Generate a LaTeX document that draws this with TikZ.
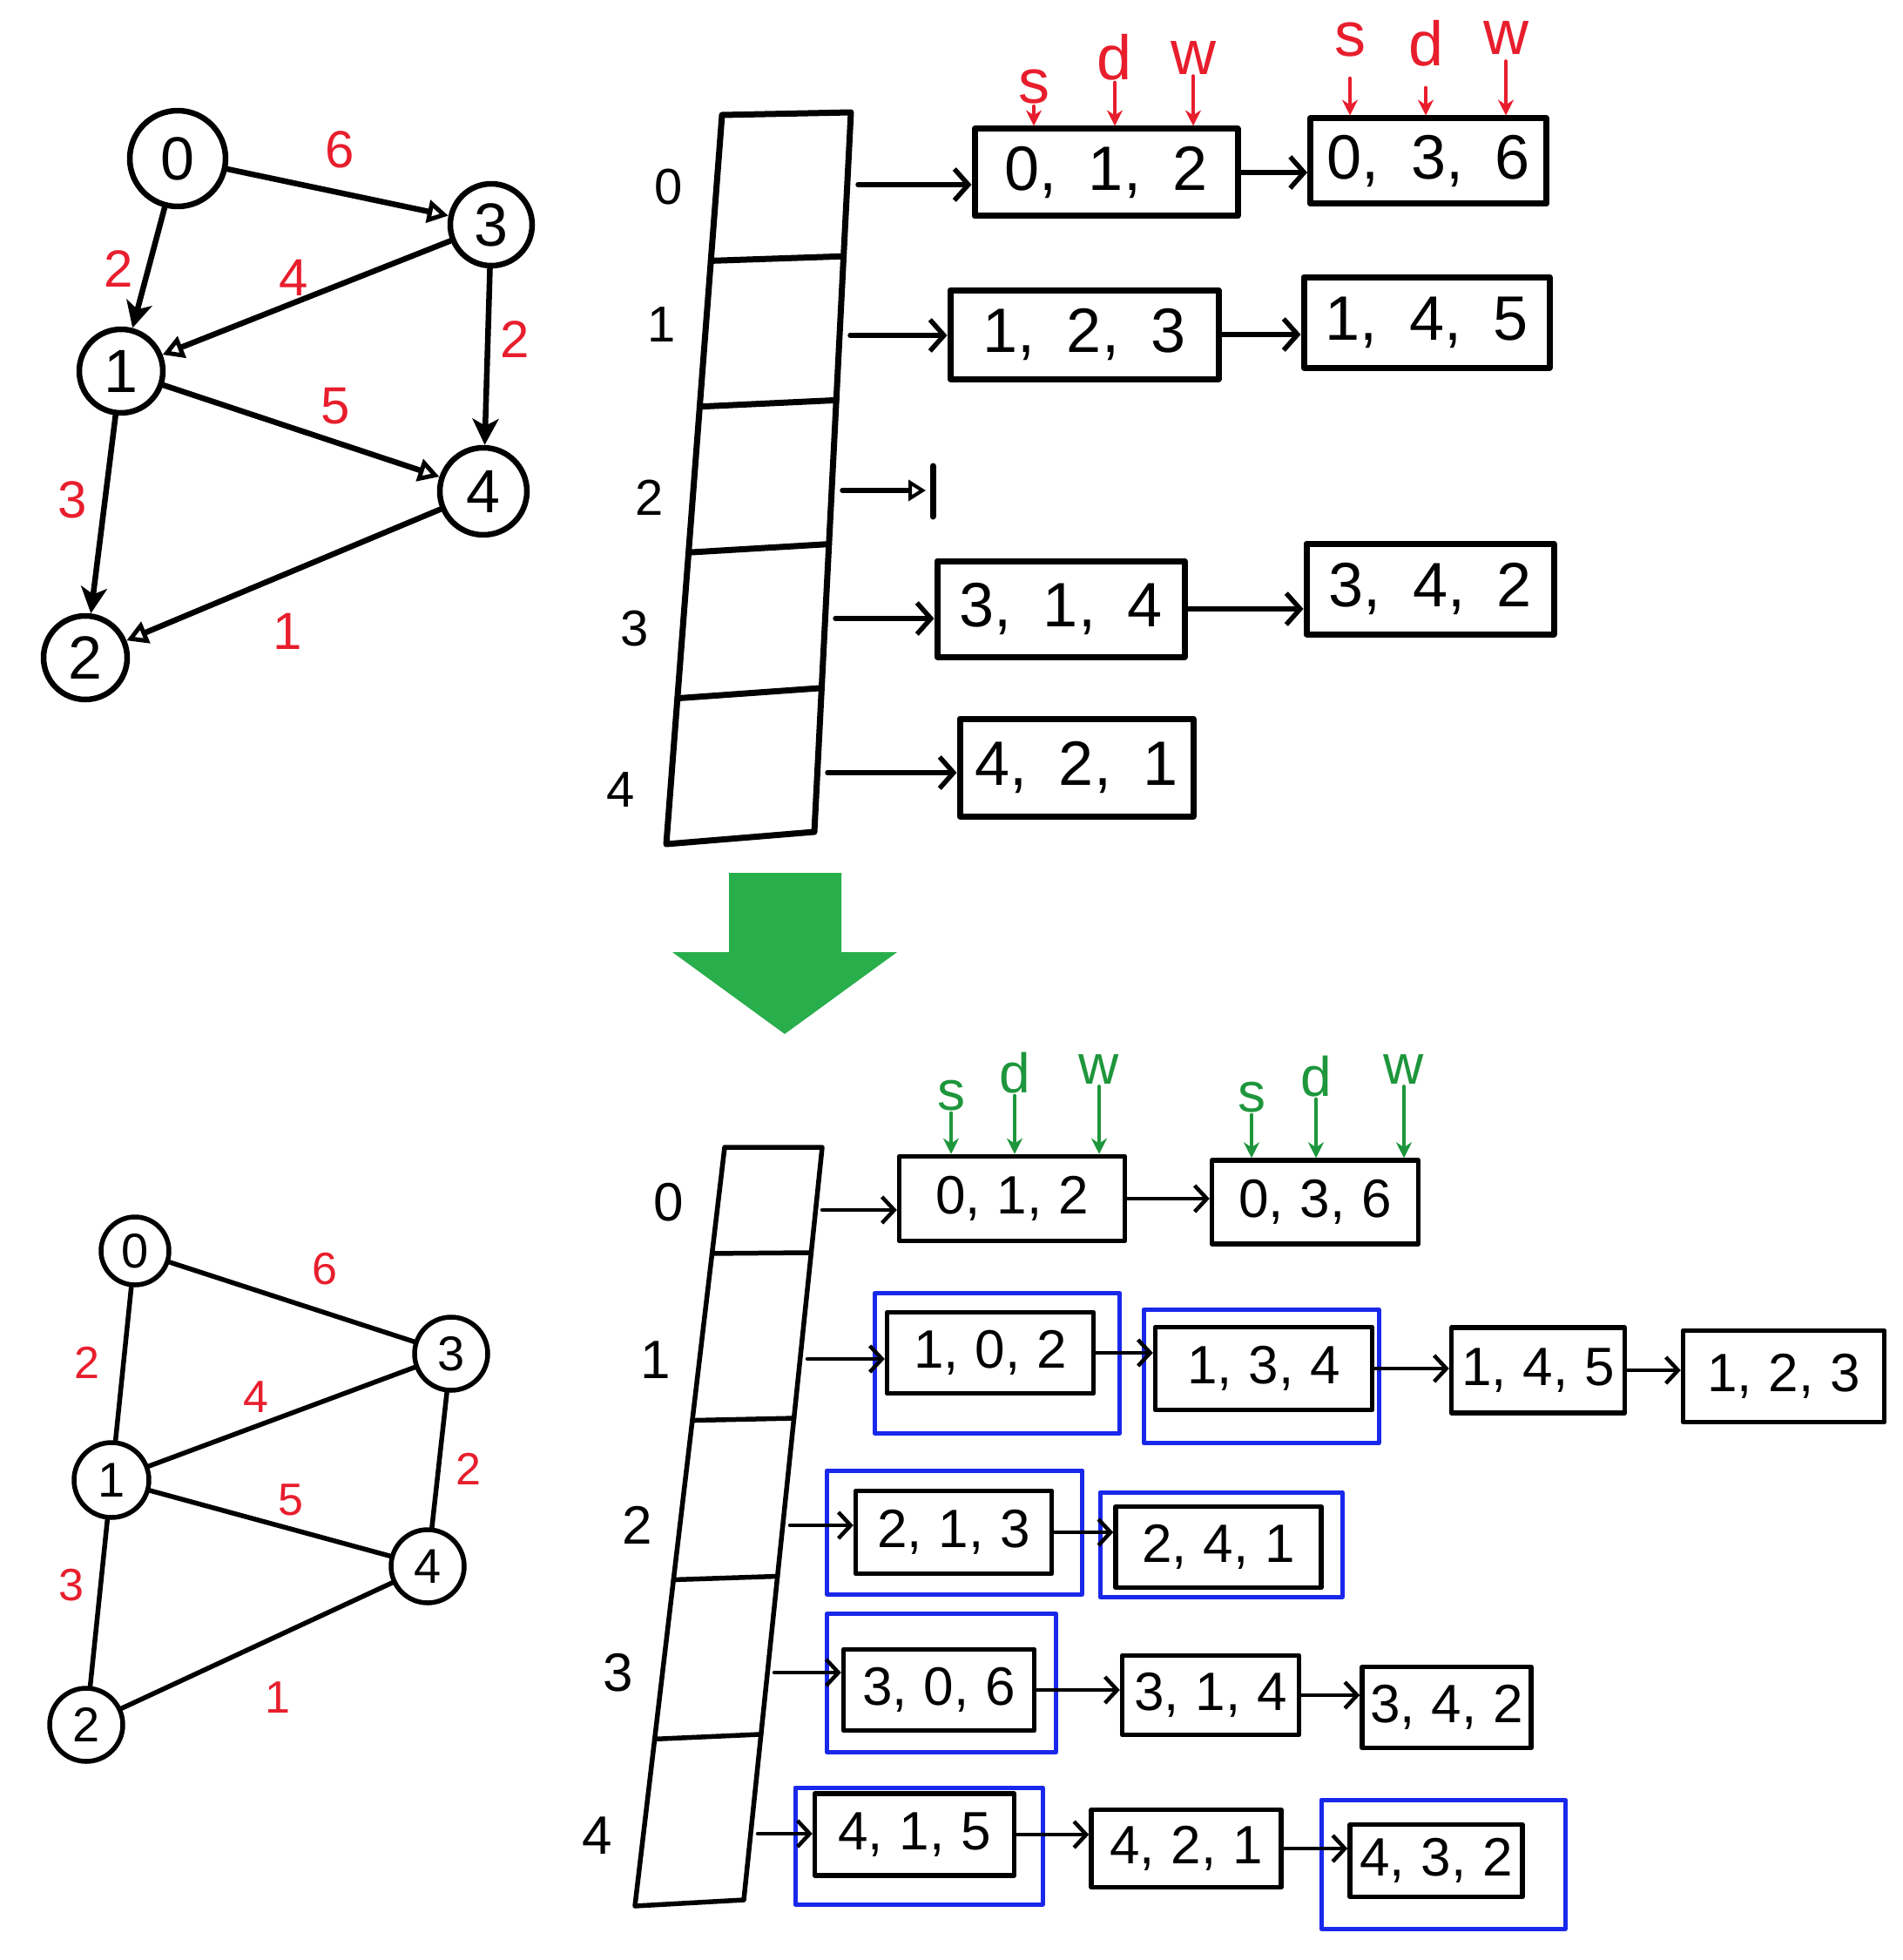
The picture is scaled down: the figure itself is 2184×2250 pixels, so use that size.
\documentclass[tikz,border=0pt]{standalone}
\usepackage{fontspec}
\setmainfont{Liberation Sans}
\usetikzlibrary{arrows.meta,calc}
\definecolor{hred}{RGB}{232,30,45}
\definecolor{hgreen}{RGB}{30,150,60}
\definecolor{biggreen}{RGB}{40,174,75}
\definecolor{hblue}{RGB}{25,40,235}
\newcommand{\fs}[1]{\fontsize{#1}{#1}\selectfont}
\newcommand{\tT}[3]{#1,\hspace{0.5em}#2,\hspace{0.5em}#3}
\newcommand{\tB}[3]{#1,\hspace{0.3em}#2,\hspace{0.3em}#3}
\begin{document}
\begin{tikzpicture}[x=1pt,y=-1pt,line cap=round,line join=round,
  vtxT/.style={circle,draw,line width=6.5pt,inner sep=0pt,font=\fs{70}},
  vtxB/.style={circle,draw,line width=5.5pt,inner sep=0pt,font=\fs{56}},
  gedge/.style={line width=6.5pt},
  opentip/.style={-{Triangle[open,length=24pt,width=26pt,line width=5pt]}},
  filltip/.style={-{Stealth[length=30pt,width=30pt,inset=8pt]}},
  elT/.style={text=hred,font=\fs{60},inner sep=0pt},
  elB/.style={text=hred,font=\fs{52},inner sep=0pt},
  uedge/.style={line width=5.5pt},
  idxT/.style={font=\fs{58},inner sep=0pt},
  idxB/.style={font=\fs{62},inner sep=0pt},
  arrT/.style={line width=7pt},
  arrB/.style={line width=5.5pt},
  boxT/.style={draw,line width=7pt,inner sep=0pt,font=\fs{72}},
  boxB/.style={draw,line width=5.5pt,inner sep=0pt,font=\fs{62}},
  sz/.style 2 args={minimum width=#1pt,minimum height=#2pt},
  linkT/.style={line width=5.5pt,-{Straight Barb[length=16pt,width=36pt]}},
  linkB/.style={line width=4.5pt,-{Straight Barb[length=14pt,width=30pt]}},
  hl/.style={draw=hblue,line width=5pt,inner sep=0pt},
  sdwT/.style={text=hred,font=\fs{72},inner sep=2pt},
  sdwB/.style={text=hgreen,font=\fs{64},inner sep=2pt},
  ptrT/.style={draw=hred,line width=4pt,-{Stealth[length=18pt,width=18pt]}},
  ptrB/.style={draw=hgreen,line width=4pt,-{Stealth[length=18pt,width=18pt]}}
]
\fill[white] (0,0) rectangle (2184,2250);
\useasboundingbox (0,0) rectangle (2184,2250);

% ================= TOP: directed graph =================
\node[vtxT,minimum size=110pt] (t0) at (204,182) {0};
\node[vtxT,minimum size=94pt] (t3) at (564,258) {3};
\node[vtxT,minimum size=96pt] (t1) at (139,426) {1};
\node[vtxT,minimum size=100pt] (t4) at (555,564) {4};
\node[vtxT,minimum size=96pt] (t2) at (98,755) {2};

\draw[gedge,opentip] (t0) -- (t3);
\draw[gedge,filltip] (t0) -- (t1);
\draw[gedge,opentip] (t3) -- (t1);
\draw[gedge,filltip] (t3) -- (t4);
\draw[gedge,opentip] (t1) -- (t4);
\draw[gedge,filltip] (t1) -- (t2);
\draw[gedge,opentip] (t4) -- (t2);

\node[elT] (lt03) at (390,172) {6};
\node[elT] (lt01) at (136,309) {2};
\node[elT] (lt31) at (337,319) {4};
\node[elT] (lt34) at (591,390) {2};
\node[elT] (lt14) at (385,466) {5};
\node[elT] (lt12) at (83,574) {3};
\node[elT] (lt42) at (330,725) {1};

% ================= TOP: array =================
\coordinate (aTL) at (829,132);
\coordinate (aTR) at (977,129);
\coordinate (aBR) at (935,955);
\coordinate (aBL) at (765,969);
\draw[arrT] (aTL) -- (aTR) -- (aBR) -- (aBL) -- cycle;
\foreach \t in {0.2,0.4,0.6,0.8}
  \draw[arrT] ($(aTL)!\t!(aBL)$) -- ($(aTR)!\t!(aBR)$);

\node[idxT] (it0) at (768,215) {0};
\node[idxT] (it1) at (760,373) {1};
\node[idxT] (it2) at (746,571) {2};
\node[idxT] (it3) at (729,722) {3};
\node[idxT] (it4) at (713,907) {4};

\coordinate (tr0) at (973,212);
\coordinate (tr1) at (964,385);
\coordinate (tr2) at (955,563);
\coordinate (tr3) at (947,710);
\coordinate (tr4) at (938,887);

% boxes
\node[boxT,sz={302}{100}] (T00) at (1270,198) {\tT{0}{1}{2}};
\node[boxT,sz={271}{98}]  (T01) at (1640,185) {\tT{0}{3}{6}};
\node[boxT,sz={308}{102}] (T10) at (1245,384) {\tT{1}{2}{3}};
\node[boxT,sz={282}{104}] (T11) at (1638,370) {\tT{1}{4}{5}};
\node[boxT,sz={284}{110}] (T30) at (1218,699) {\tT{3}{1}{4}};
\node[boxT,sz={284}{104}] (T31) at (1642,676) {\tT{3}{4}{2}};
\node[boxT,sz={268}{112}] (T40) at (1236,881) {\tT{4}{2}{1}};

\draw[linkT,shorten <=12pt] (tr0) -- (tr0 -| T00.west);
\draw[linkT,shorten <=12pt] (tr1) -- (tr1 -| T10.west);
\coordinate (tn2) at (1063,563);
\draw[line width=5.5pt,-{Triangle[open,length=20pt,width=24pt,line width=4pt]},shorten <=12pt] (tr2) -- (tn2);
\draw[arrT] ([xshift=8pt]tn2) ++(0,-28) -- ++(0,58);
\draw[linkT,shorten <=12pt] (tr3) -- (tr3 -| T30.west);
\draw[linkT,shorten <=12pt] (tr4) -- (tr4 -| T40.west);
\draw[linkT] (T00.east) -- (T00.east -| T01.west);
\draw[linkT] (T10.east) -- (T10.east -| T11.west);
\draw[linkT] (T30.east) -- (T30.east -| T31.west);

% s d w (red)
\node[sdwT] (sA) at (1187,100) {s};
\node[sdwT] (dA) at (1280,66) {d};
\node[sdwT] (wA) at (1370,66) {w};
\draw[ptrT] (sA.south) -- (sA.south |- T00.north);
\draw[ptrT] (dA.south) -- (dA.south |- T00.north);
\draw[ptrT] (wA.south) -- (wA.south |- T00.north);
\node[sdwT] (sB) at (1550,46) {s};
\node[sdwT] (dB) at (1637,50) {d};
\node[sdwT] (wB) at (1729,43) {w};
\draw[ptrT,shorten <=22pt] (sB.south) -- (sB.south |- T01.north);
\draw[ptrT,shorten <=22pt] (dB.south) -- (dB.south |- T01.north);
\draw[ptrT,shorten <=6pt] (wB.south) -- (wB.south |- T01.north);

% ================= big green arrow =================
\fill[biggreen] (837,1002) -- (966,1002) -- (966,1093) -- (1030,1093)
  -- (901,1187) -- (772,1093) -- (837,1093) -- cycle;

% ================= BOTTOM: undirected graph =================
\node[vtxB,minimum size=78pt] (b0) at (155,1436) {0};
\node[vtxB,minimum size=84pt] (b3) at (518,1554) {3};
\node[vtxB,minimum size=86pt] (b1) at (128,1699) {1};
\node[vtxB,minimum size=84pt] (b4) at (491,1798) {4};
\node[vtxB,minimum size=84pt] (b2) at (99,1980) {2};

\draw[uedge] (b0) -- (b3);
\draw[uedge] (b0) -- (b1);
\draw[uedge] (b1) -- (b3);
\draw[uedge] (b3) -- (b4);
\draw[uedge] (b1) -- (b4);
\draw[uedge] (b1) -- (b2);
\draw[uedge] (b2) -- (b4);

\node[elB] (lb03) at (373,1457) {6};
\node[elB] (lb01) at (100,1564) {2};
\node[elB] (lb13) at (294,1604) {4};
\node[elB] (lb34) at (538,1686) {2};
\node[elB] (lb14) at (334,1722) {5};
\node[elB] (lb12) at (82,1820) {3};
\node[elB] (lb24) at (319,1949) {1};

% ================= BOTTOM: array =================
\coordinate (bTL) at (832,1317);
\coordinate (bTR) at (944,1317);
\coordinate (bBR) at (854,2181);
\coordinate (bBL) at (729,2188);
\draw[arrB] (bTL) -- (bTR) -- (bBR) -- (bBL) -- cycle;
\foreach \t in {0.14,0.36,0.57,0.78}
  \draw[arrB] ($(bTL)!\t!(bBL)$) -- ($(bTR)!\t!(bBR)$);

\node[idxB] (ib0) at (768,1380) {0};
\node[idxB] (ib1) at (753,1561) {1};
\node[idxB] (ib2) at (732,1751) {2};
\node[idxB] (ib3) at (710,1920) {3};
\node[idxB] (ib4) at (686,2107) {4};

\coordinate (br0) at (936,1389);
\coordinate (br1) at (919,1560);
\coordinate (br2) at (899,1751);
\coordinate (br3) at (881,1920);
\coordinate (br4) at (862,2105);

% highlight boxes (blue)
\node[hl,sz={281}{161}] (h10) at (1145,1565) {};
\node[hl,sz={270}{153}] (h11) at (1448,1580) {};
\node[hl,sz={293}{142}] (h20) at (1096,1759) {};
\node[hl,sz={278}{120}] (h21) at (1402,1773) {};
\node[hl,sz={263}{159}] (h30) at (1081,1932) {};
\node[hl,sz={284}{134}] (h40) at (1055,2119) {};
\node[hl,sz={280}{148}] (h42) at (1657,2140) {};

% list boxes
\node[boxB,sz={259}{97}]  (B00) at (1162,1376) {\tB{0}{1}{2}};
\node[boxB,sz={237}{96}]  (B01) at (1510,1380) {\tB{0}{3}{6}};
\node[boxB,sz={237}{93}]  (B10) at (1137,1553) {\tB{1}{0}{2}};
\node[boxB,sz={249}{95}]  (B11) at (1451,1571) {\tB{1}{3}{4}};
\node[boxB,sz={199}{98}]  (B12) at (1766,1573) {\tB{1}{4}{5}};
\node[boxB,sz={231}{105}] (B13) at (2048,1580) {\tB{1}{2}{3}};
\node[boxB,sz={225}{95}]  (B20) at (1095,1759) {\tB{2}{1}{3}};
\node[boxB,sz={236}{93}]  (B21) at (1399,1776) {\tB{2}{4}{1}};
\node[boxB,sz={219}{93}]  (B30) at (1078,1940) {\tB{3}{0}{6}};
\node[boxB,sz={203}{91}]  (B31) at (1390,1946) {\tB{3}{1}{4}};
\node[boxB,sz={194}{93}]  (B32) at (1661,1960) {\tB{3}{4}{2}};
\node[boxB,sz={229}{94}]  (B40) at (1050,2106) {\tB{4}{1}{5}};
\node[boxB,sz={218}{89}]  (B41) at (1362,2122) {\tB{4}{2}{1}};
\node[boxB,sz={198}{83}]  (B42) at (1649,2136) {\tB{4}{3}{2}};

\draw[linkB,shorten <=8pt] (br0) -- (br0 -| B00.west);
\draw[linkB,shorten <=8pt] (br1) -- (br1 -| B10.west);
\draw[linkB,shorten <=8pt] (br2) -- (br2 -| B20.west);
\draw[linkB,shorten <=8pt] (br3) -- (br3 -| B30.west);
\draw[linkB,shorten <=8pt] (br4) -- (br4 -| B40.west);
\draw[linkB] (B00.east) -- (B00.east -| B01.west);
\draw[linkB] (B10.east) -- (B10.east -| B11.west);
\draw[linkB] (B11.east) -- (B11.east -| B12.west);
\draw[linkB] (B12.east) -- (B12.east -| B13.west);
\draw[linkB] (B20.east) -- (B20.east -| B21.west);
\draw[linkB] (B30.east) -- (B30.east -| B31.west);
\draw[linkB] (B31.east) -- (B31.east -| B32.west);
\draw[linkB] (B40.east) -- (B40.east -| B41.west);
\draw[linkB] (B41.east) -- (B41.east -| B42.west);

% s d w (green)
\node[sdwB] (sC) at (1092,1258) {s};
\node[sdwB] (dC) at (1165,1232) {d};
\node[sdwB] (wC) at (1262,1228) {w};
\draw[ptrB] (sC.south) -- (sC.south |- B00.north);
\draw[ptrB] (dC.south) -- (dC.south |- B00.north);
\draw[ptrB] (wC.south) -- (wC.south |- B00.north);
\node[sdwB] (sD) at (1437,1260) {s};
\node[sdwB] (dD) at (1511,1236) {d};
\node[sdwB] (wD) at (1612,1228) {w};
\draw[ptrB] (sD.south) -- (sD.south |- B01.north);
\draw[ptrB] (dD.south) -- (dD.south |- B01.north);
\draw[ptrB] (wD.south) -- (wD.south |- B01.north);
\end{tikzpicture}
\end{document}
